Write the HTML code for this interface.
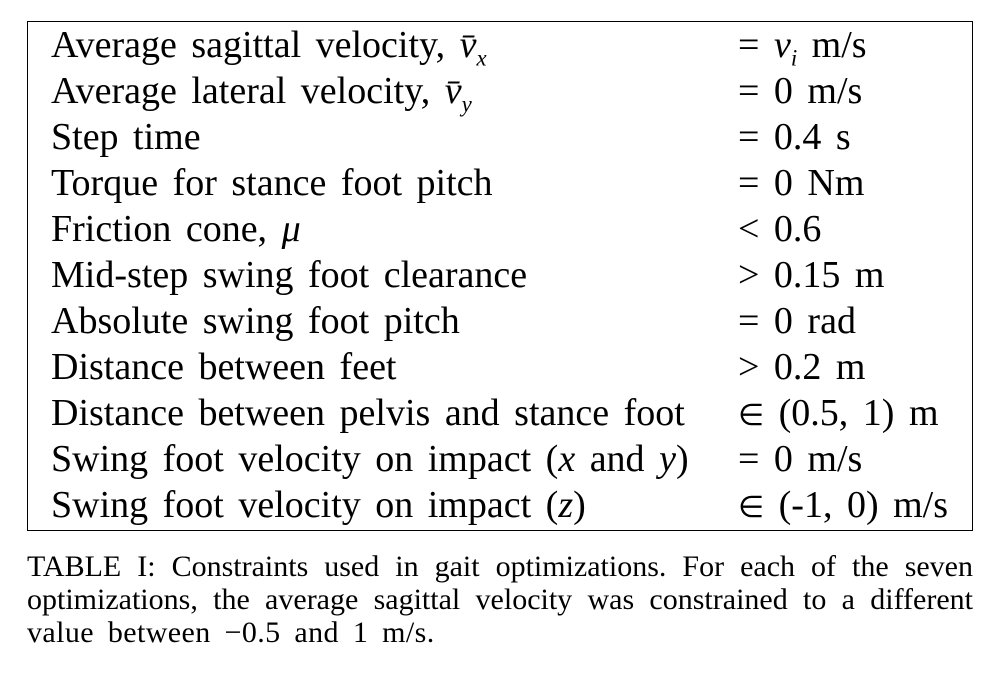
<!DOCTYPE html>
<html><head><meta charset="utf-8"><style>
body{margin:0;width:998px;height:676px;background:#fff;position:relative;font-family:"Liberation Serif",serif;color:#000;overflow:hidden}
#tbl{position:absolute;left:27px;top:21px;width:946px;height:510px;border:1.5px solid #000;box-sizing:border-box}
.r{position:absolute;font-size:38px;line-height:46px;white-space:nowrap;word-spacing:5px}
.c1{left:23px}.c2{left:710px;word-spacing:5px}
.el{font-size:30px}
i{font-style:italic}
#cap{position:absolute;left:27px;top:550px;width:946px;font-size:30px;line-height:33px}
.cl{display:block;text-align:justify;text-align-last:justify;white-space:nowrap;height:33px}
.cl.last{text-align-last:left;word-spacing:6px;letter-spacing:0.4px}
</style></head><body>
<div id="tbl"></div>
<div id="cap"><span class="cl">TABLE I: Constraints used in gait optimizations. For each of the seven</span><span class="cl">optimizations, the average sagittal velocity was constrained to a different</span><span class="cl last">value between −0.5 and 1 m/s.</span></div>
<script>
const labels=["Average sagittal velocity, <i>v̄<sub style='font-size:60%'>x</sub></i>","Average lateral velocity, <i>v̄<sub style='font-size:60%'>y</sub></i>","Step time","Torque for stance foot pitch","Friction cone, <i>μ</i>","Mid-step swing foot clearance","Absolute swing foot pitch","Distance between feet","Distance between pelvis and stance foot","Swing foot velocity on impact (<i>x</i> and <i>y</i>)","Swing foot velocity on impact (<i>z</i>)"];
const values=["= <i>v<sub style='font-size:60%'>i</sub></i> m/s","= 0 m/s","= 0.4 s","= 0 Nm","&lt; 0.6","&gt; 0.15 m","= 0 rad","&gt; 0.2 m","<span class='el'>∈</span> (0.5, 1) m","= 0 m/s","<span class='el'>∈</span> (-1, 0) m/s"];
const t=document.getElementById('tbl');
labels.forEach((l,i)=>{
 const a=document.createElement('div');a.className='r c1';a.style.top=(i*46)+'px';a.innerHTML=l;
 
 
 t.appendChild(a);
 const b=document.createElement('div');b.className='r c2';b.style.top=(i*46)+'px';b.innerHTML=values[i];
 
 
 t.appendChild(b);
});
</script>
</body></html>
